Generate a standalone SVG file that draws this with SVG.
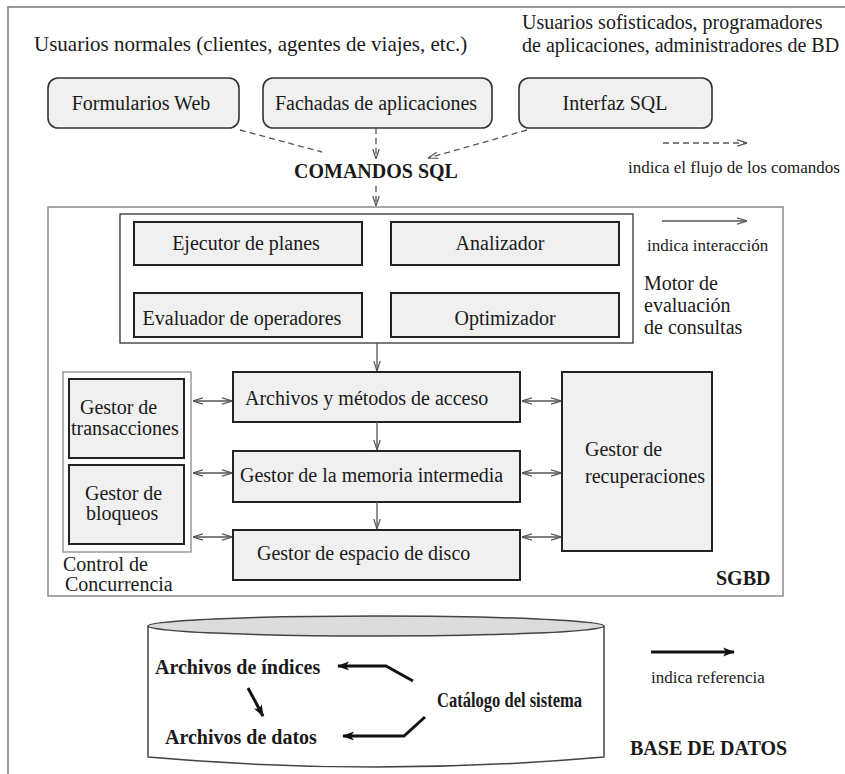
<svg xmlns="http://www.w3.org/2000/svg" width="845" height="774" viewBox="0 0 845 774">
  <defs>
    <style>
      text { font-family: 'Liberation Serif', 'DejaVu Serif', serif; fill: #1a1a1a; }
      .b { font-weight: bold; }
      .lg { font-size: 17px; }
      .n { font-size: 20px; }
      .box { fill: #f0f0f0; stroke: #222; stroke-width: 2; }
      .rbox { fill: #f0f0f0; stroke: #333; stroke-width: 1.6; }
      .frame { fill: #fff; stroke: #333; stroke-width: 1.3; }
      .thin { fill: none; stroke: #8a8a8a; stroke-width: 1.5; }
      .dash { fill: none; stroke: #555; stroke-width: 1.3; stroke-dasharray: 6 4; }
      .solid { fill: none; stroke: #555; stroke-width: 1.3; }
      .ref { fill: none; stroke: #111; stroke-width: 3; }
    </style>
    <marker id="open" viewBox="0 0 10 8" refX="10" refY="4" markerWidth="10" markerHeight="8" markerUnits="userSpaceOnUse" orient="auto-start-reverse">
      <path d="M0,0.8 L10,4 L0,7.2" fill="none" stroke="#555" stroke-width="1.2"/>
    </marker>
    <marker id="heavy" viewBox="0 0 12 10" refX="11" refY="5" markerWidth="12" markerHeight="10" markerUnits="userSpaceOnUse" orient="auto">
      <path d="M0,0.5 L12,5 L0,9.5 L3,5 Z" fill="#111"/>
    </marker>
  </defs>

  <rect width="845" height="774" fill="#fff"/>
  <!-- page frame (open at right and bottom) -->
  <path d="M8,774 V7 H845" fill="none" stroke="#7a7a7a" stroke-width="1.5"/>

  <g font-family="'Liberation Serif', 'DejaVu Serif', serif">
  <!-- user groups -->
  <g id="users">
    <text x="34" y="51" font-size="21">Usuarios normales (clientes, agentes de viajes, etc.)</text>
    <text x="522" y="29" font-size="20">Usuarios sofisticados, programadores</text>
    <text x="522" y="52" font-size="20">de aplicaciones, administradores de BD</text>
  </g>

  <!-- front-end interfaces -->
  <g id="web-forms">
    <rect class="rbox" x="48" y="78" width="191" height="50" rx="10"/>
    <text class="n" x="141" y="110" text-anchor="middle">Formularios Web</text>
  </g>
  <g id="app-fronts">
    <rect class="rbox" x="263" y="78" width="229" height="50" rx="10"/>
    <text class="n" x="376" y="110" text-anchor="middle">Fachadas de aplicaciones</text>
  </g>
  <g id="sql-interface">
    <rect class="rbox" x="519" y="78" width="193" height="50" rx="10"/>
    <text class="n" x="615" y="110" text-anchor="middle">Interfaz SQL</text>
  </g>
  <g id="sql-commands">
    <text class="b n" x="376" y="178" text-anchor="middle">COMANDOS SQL</text>
  </g>

  <!-- legends -->
  <g id="legend-flow">
    <line class="dash" x1="663" y1="143" x2="747" y2="143" marker-end="url(#open)"/>
    <text class="lg" x="628" y="173">indica el flujo de los comandos</text>
  </g>
  <g id="legend-interaction">
    <line class="solid" x1="662" y1="221" x2="747" y2="221" marker-end="url(#open)"/>
    <text class="lg" x="647" y="251">indica interacción</text>
  </g>
  <g id="legend-reference">
    <line class="ref" x1="651" y1="652" x2="734" y2="652" marker-end="url(#heavy)"/>
    <text class="lg" x="651" y="683">indica referencia</text>
  </g>

  <!-- DBMS -->
  <g id="sgbd">
    <rect class="thin" x="48" y="207" width="735" height="389" fill="#fff"/>
    <text class="b n" x="716" y="585">SGBD</text>
  </g>

  <g id="query-engine">
    <rect class="frame" x="120" y="214" width="513" height="129"/>
    <text class="n" x="644" y="290">Motor de</text>
    <text class="n" x="644" y="312">evaluación</text>
    <text class="n" x="644" y="334">de consultas</text>
  </g>
  <g id="plan-executor">
    <rect class="box" x="134" y="222" width="228" height="43"/>
    <text class="n" x="246" y="250" text-anchor="middle">Ejecutor de planes</text>
  </g>
  <g id="parser">
    <rect class="box" x="391" y="222" width="228" height="43"/>
    <text class="n" x="500" y="250" text-anchor="middle">Analizador</text>
  </g>
  <g id="operator-evaluator">
    <rect class="box" x="134" y="293" width="228" height="44"/>
    <text class="n" x="242" y="325" text-anchor="middle">Evaluador de operadores</text>
  </g>
  <g id="optimizer">
    <rect class="box" x="391" y="293" width="228" height="44"/>
    <text class="n" x="505" y="325" text-anchor="middle">Optimizador</text>
  </g>

  <g id="concurrency-control">
    <rect x="63" y="372" width="128" height="180" fill="#fff" stroke="#8a8a8a" stroke-width="1.3"/>
    <text class="n" x="63" y="571">Control de</text>
    <text class="n" x="65" y="591">Concurrencia</text>
  </g>
  <g id="transaction-manager">
    <rect class="box" x="69" y="379" width="115" height="79"/>
    <text class="n" x="80" y="414">Gestor de</text>
    <text class="n" x="71" y="435">transacciones</text>
  </g>
  <g id="lock-manager">
    <rect class="box" x="69" y="465" width="115" height="79"/>
    <text class="n" x="85" y="500">Gestor de</text>
    <text class="n" x="86" y="520">bloqueos</text>
  </g>
  <g id="access-methods">
    <rect class="box" x="233" y="372" width="287" height="50"/>
    <text class="n" x="245" y="405">Archivos y métodos de acceso</text>
  </g>
  <g id="buffer-manager">
    <rect class="box" x="233" y="451" width="287" height="51"/>
    <text class="n" x="240" y="482">Gestor de la memoria intermedia</text>
  </g>
  <g id="disk-space-manager">
    <rect class="box" x="233" y="530" width="287" height="50"/>
    <text class="n" x="257" y="560">Gestor de espacio de disco</text>
  </g>
  <g id="recovery-manager">
    <rect class="box" x="562" y="372" width="150" height="179"/>
    <text class="n" x="585" y="456">Gestor de</text>
    <text class="n" x="585" y="483">recuperaciones</text>
  </g>

  <!-- database -->
  <g id="database">
    <path d="M148,626 V757 Q376,777 604,757 V626" fill="#fff" stroke="#444" stroke-width="1.5"/>
    <ellipse cx="376" cy="626" rx="228" ry="10" fill="#dcdcdc" stroke="#444" stroke-width="1.5"/>
    <text class="b n" x="630" y="755">BASE DE DATOS</text>
  </g>
  <g id="index-files">
    <text class="b n" x="155" y="674">Archivos de índices</text>
  </g>
  <g id="data-files">
    <text class="b n" x="165" y="744">Archivos de datos</text>
  </g>
  <g id="system-catalog">
    <text class="b n" x="437" y="707" textLength="145" lengthAdjust="spacingAndGlyphs">Catálogo del sistema</text>
  </g>
  </g>

  <!-- connectors -->
  <g id="connectors">
    <line class="dash" x1="240" y1="130" x2="322" y2="152"/>
    <line class="dash" x1="376" y1="128" x2="376" y2="159" marker-end="url(#open)"/>
    <line class="dash" x1="527" y1="130" x2="428" y2="158" marker-end="url(#open)"/>
    <line class="dash" x1="376" y1="186" x2="376" y2="206" marker-end="url(#open)"/>

    <line class="solid" x1="377" y1="343" x2="377" y2="371" marker-end="url(#open)"/>
    <line class="solid" x1="377" y1="422" x2="377" y2="450" marker-end="url(#open)"/>
    <line class="solid" x1="377" y1="502" x2="377" y2="529" marker-end="url(#open)"/>

    <line class="solid" x1="193" y1="401" x2="232" y2="401" marker-start="url(#open)" marker-end="url(#open)"/>
    <line class="solid" x1="193" y1="473" x2="232" y2="473" marker-start="url(#open)" marker-end="url(#open)"/>
    <line class="solid" x1="193" y1="537" x2="232" y2="537" marker-start="url(#open)" marker-end="url(#open)"/>
    <line class="solid" x1="522" y1="401" x2="561" y2="401" marker-start="url(#open)" marker-end="url(#open)"/>
    <line class="solid" x1="522" y1="473" x2="561" y2="473" marker-start="url(#open)" marker-end="url(#open)"/>
    <line class="solid" x1="522" y1="537" x2="561" y2="537" marker-start="url(#open)" marker-end="url(#open)"/>

    <polyline class="ref" points="413,681 386,666 338,666" marker-end="url(#heavy)"/>
    <line class="ref" x1="248" y1="688" x2="263" y2="716" stroke-width="2.5" marker-end="url(#heavy)"/>
    <polyline class="ref" points="425,717 404,736 343,736" marker-end="url(#heavy)"/>
  </g>
</svg>
